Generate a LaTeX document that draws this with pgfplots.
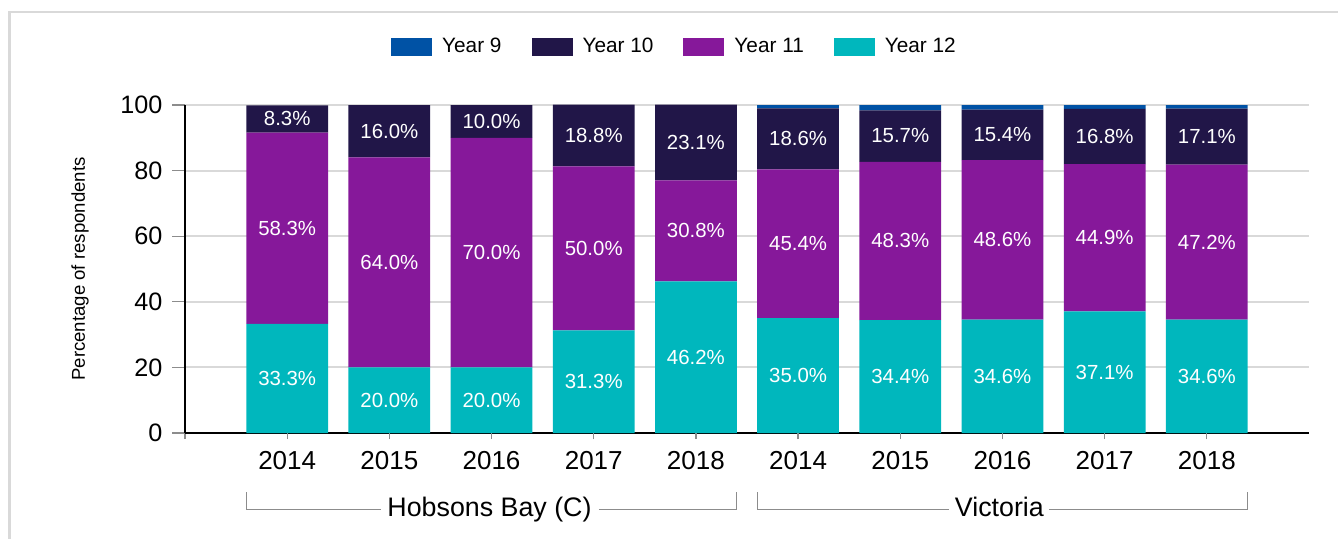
\documentclass[border=0pt]{standalone}
\usepackage{fontspec}
\setmainfont{Liberation Sans}
\usepackage{pgfplots}
\usepackage{pgfplotstable}
\pgfplotsset{compat=1.18}
\definecolor{cA}{RGB}{0,82,165}
\definecolor{cB}{RGB}{33,22,72}
\definecolor{cC}{RGB}{134,24,154}
\definecolor{cD}{RGB}{0,183,189}
\definecolor{gridc}{RGB}{217,217,217}
\definecolor{brk}{RGB}{140,140,140}
\pgfplotstableread{
x y12 y11 y10 y9
0 33.3 58.3 8.3 0
1 20.0 64.0 16.0 0
2 20.0 70.0 10.0 0
3 31.3 50.0 18.8 0
4 46.2 30.8 23.1 0
5 35.0 45.4 18.6 1.0
6 34.4 48.3 15.7 1.6
7 34.6 48.6 15.4 1.4
8 37.1 44.9 16.8 1.2
9 34.6 47.2 17.1 1.1
}\data
\pgfplotsset{seglabel/.style={
  nodes near coords={\pgfmathprintnumber[fixed,fixed zerofill,precision=1]{\pgfplotspointmeta}\%},
  point meta=\thisrow{#1},
  every node near coord/.append style={font=\fontsize{10.2pt}{12pt}\selectfont, text=white, anchor=center}
}}
\begin{document}
\begin{tikzpicture}
\useasboundingbox (0,0) rectangle (669pt,269pt);
\draw[gridc, line width=1.25pt] (4.75pt,-10pt) -- (4.75pt,263pt) -- (690pt,263pt);
\begin{axis}[
  at={(92.5pt,52.5pt)}, anchor=south west,
  scale only axis, width=562pt, height=164pt,
  ybar stacked, bar width=0.8,
  xmin=-1, xmax=10, ymin=0, ymax=100,
  clip=false,
  /pgf/number format/assume math mode=true,
  axis x line*=bottom, axis y line*=left,
  axis line style={black, line width=1pt},
  xtick={-1,1,3,5,7,9}, xticklabels={},
  extra x ticks={0,1,2,3,4,5,6,7,8,9},
  extra x tick labels={2014,2015,2016,2017,2018,2014,2015,2016,2017,2018},
  extra x tick style={major tick length=0pt, grid=none},
  ytick={0,20,40,60,80,100},
  ymajorgrids, grid style={gridc, line width=1pt},
  tick align=outside,
  major tick style={brk, line width=0.6pt},
  xtick style={/pgfplots/major tick length=3pt},
  ytick style={/pgfplots/major tick length=6.5pt},
  x tick label style={font=\fontsize{13pt}{15pt}\selectfont, yshift=-5.5pt},
  y tick label style={font=\fontsize{12.6pt}{15pt}\selectfont, xshift=-3.5pt},
  ylabel={Percentage of respondents},
  ylabel style={font=\fontsize{9.3pt}{11pt}\selectfont, at={(axis description cs:-0.0934,0.5)}, anchor=center},
  legend columns=4, reverse legend,
  legend style={at={(0.4346,1.177)}, anchor=center, draw=none, fill=none,
    font=\fontsize{10.4pt}{12pt}\selectfont,
    nodes={inner sep=0pt},
    /tikz/every odd column/.append style={column sep=5pt},
    /tikz/every even column/.append style={column sep=15pt}},
  legend image code/.code={\fill[#1] (0pt,-4.7pt) rectangle (20.5pt,4.7pt);},
]
\addplot[fill=cD, draw=none, seglabel=y12] table[x=x, y=y12] {\data};
\addplot[fill=cC, draw=none, seglabel=y11] table[x=x, y=y11] {\data};
\addplot[fill=cB, draw=none, seglabel=y10] table[x=x, y=y10] {\data};
\addplot[fill=cA, draw=none] table[x=x, y=y9] {\data};
\legend{Year 12, Year 11, Year 10, Year 9}
\node[anchor=base, inner sep=0pt, font=\fontsize{13.4pt}{15pt}\selectfont] at (axis cs:1.98,-25.6) {Hobsons Bay (C)};
\node[anchor=base, inner sep=0pt, font=\fontsize{13.4pt}{15pt}\selectfont] at (axis cs:6.97,-25.6) {Victoria};
\draw[brk, line width=0.6pt] (axis cs:-0.4,-18) -- (axis cs:-0.4,-23.2) -- (axis cs:0.915,-23.2);
\draw[brk, line width=0.6pt] (axis cs:3.05,-23.2) -- (axis cs:4.4,-23.2) -- (axis cs:4.4,-18);
\draw[brk, line width=0.6pt] (axis cs:4.6,-18) -- (axis cs:4.6,-23.2) -- (axis cs:6.48,-23.2);
\draw[brk, line width=0.6pt] (axis cs:7.46,-23.2) -- (axis cs:9.4,-23.2) -- (axis cs:9.4,-18);
\end{axis}
\end{tikzpicture}
\end{document}
